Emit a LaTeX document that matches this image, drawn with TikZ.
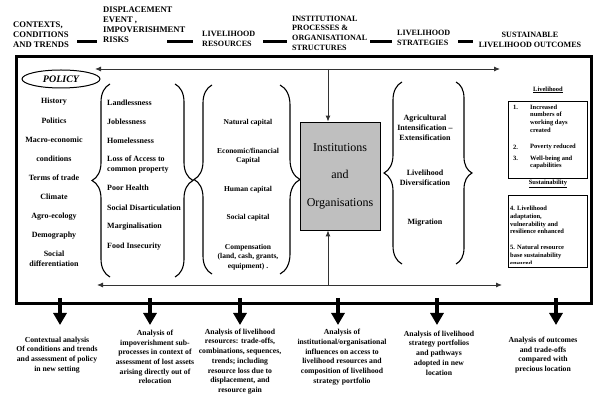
\documentclass[tikz,border=0pt]{standalone}
\usepackage{fontspec}
\setmainfont{Liberation Serif}
\usetikzlibrary{arrows.meta,decorations.pathreplacing,shapes.geometric}
\begin{document}
\begin{tikzpicture}[x=1pt,y=-1pt,
  hdr/.style={font=\bfseries\fontsize{8.1}{9.7}\selectfont, align=left, inner sep=0, anchor=west},
  itm/.style={font=\bfseries\fontsize{8}{10}\selectfont, inner sep=0},
  res/.style={font=\bfseries\fontsize{7.5}{9.5}\selectfont, inner sep=0, align=center},
  sml/.style={font=\bfseries\fontsize{6.5}{7.8}\selectfont, inner sep=0, align=left, anchor=west},
  btm/.style={font=\bfseries\fontsize{7.7}{9.7}\selectfont, inner sep=0, align=center},
  hdash/.style={line width=3pt},
  conn/.style={line width=0.9pt, draw=black!80},
  tip/.style={-{Latex[length=6pt,width=5pt]}},
  brc/.style={decorate, decoration={brace, amplitude=#1}, line width=1.1pt},
  bigarr/.style={line width=4.5pt, -{Triangle[width=13pt,length=12pt]}}
]
\useasboundingbox (0,0) rectangle (600,403);

% header
\node[hdr, font=\bfseries\fontsize{8.6}{10}\selectfont] (h1) at (13,35) {CONTEXTS,\\CONDITIONS\\AND TRENDS};
\node[hdr, font=\bfseries\fontsize{8.6}{10}\selectfont] (h2) at (103,25) {DISPLACEMENT\\EVENT ,\\IMPOVERISHMENT\\RISKS};
\node[hdr] (h3) at (202,39) {LIVELIHOOD\\RESOURCES};
\node[hdr] (h4) at (292,33) {INSTITUTIONAL\\PROCESSES \&\\ORGANISATIONAL\\STRUCTURES};
\node[hdr] (h5) at (397,38) {LIVELIHOOD\\STRATEGIES};
\node[hdr, anchor=center, align=center] (h6) at (530,40) {SUSTAINABLE\\LIVELIHOOD OUTCOMES};
\draw[hdash] (77,42) -- (97,42);
\draw[hdash] (167,42) -- (193,42);
\draw[hdash] (263,42) -- (287,42);
\draw[hdash] (370,42) -- (392,42);
\draw[hdash] (458,42) -- (473,42);

% frame
\node[draw, line width=3pt, minimum width=575, minimum height=247, inner sep=0, anchor=north west] (frame) at (15,55) {};

% policy and left column
\node[draw, ellipse, line width=1pt, minimum width=78, minimum height=18, inner sep=0,
      font=\bfseries\itshape\fontsize{10}{11}\selectfont] (policy) at (61,79) {POLICY};
\node[itm] (l1) at (54,102) {History};
\node[itm] (l2) at (54,121) {Politics};
\node[itm] (l3) at (54,140) {Macro-economic};
\node[itm] (l4) at (54,159) {conditions};
\node[itm] (l5) at (54,178) {Terms of trade};
\node[itm] (l6) at (54,197) {Climate};
\node[itm] (l7) at (54,217) {Agro-ecology};
\node[itm] (l8) at (54,236) {Demography};
\node[itm, align=center] (l9) at (54,259) {Social\\differentiation};

% impoverishment risks
\node[itm, anchor=west] (r1) at (107,103) {Landlessness};
\node[itm, anchor=west] (r2) at (107,122) {Joblessness};
\node[itm, anchor=west] (r3) at (107,141) {Homelessness};
\node[itm, anchor=west, align=left] (r4) at (107,165) {Loss of Access to\\common property};
\node[itm, anchor=west] (r5) at (107,188) {Poor Health};
\node[itm, anchor=west] (r6) at (107,208) {Social Disarticulation};
\node[itm, anchor=west] (r7) at (107,227) {Marginalisation};
\node[itm, anchor=west] (r8) at (107,247) {Food Insecurity};

% resources
\node[res] (s1) at (248,123) {Natural capital};
\node[res] (s2) at (248,156) {Economic/financial\\Capital};
\node[res] (s3) at (248,190) {Human capital};
\node[res] (s4) at (248,218) {Social capital};
\node[res] (s5) at (248,257) {Compensation\\(land, cash, grants,\\equipment) .};

% institutions
\node[draw, fill=black!25, line width=0.8pt, minimum width=80, minimum height=108, inner sep=0,
      align=center, font=\fontsize{12}{27.5}\selectfont] (inst) at (340,176) {Institutions\\and\\Organisations};

% strategies
\node[itm, align=center] (g1) at (425,128) {Agricultural\\Intensification --\\Extensification};
\node[itm, align=center] (g2) at (425,178) {Livelihood\\Diversification};
\node[itm] (g3) at (425,223) {Migration};

% braces
\draw[brc=18pt] (110,277) -- (110,84);
\draw[brc=18pt] (175,84) -- (175,277);
\draw[brc=18pt] (212,274) -- (212,85);
\draw[brc=20pt] (280,85) -- (280,274);
\draw[brc=18pt] (402,264) -- (402,82);
\draw[brc=16pt] (456,82) -- (456,264);

% outcomes
\node[sml, anchor=center] (o1) at (548,90) {\underline{Livelihood}};
\node[draw, line width=0.7pt, minimum width=79, minimum height=77, inner sep=0, anchor=north west] (box1) at (508,101) {};
\node[sml] (n1) at (513,107) {1.};
\node[sml] (t1) at (530,118.5) {Increased\\numbers of\\working days\\created};
\node[sml] (n2) at (513,147) {2.};
\node[sml] (t2) at (530,147) {Poverty reduced};
\node[sml] (n3) at (513,158) {3.};
\node[sml] (t3) at (530,162.5) {Well-being and\\capabilities};
\node[sml, anchor=center] (o2) at (548,184) {\underline{Sustainability}};
\node[draw, line width=0.7pt, minimum width=79, minimum height=72, inner sep=0, anchor=north west] (box2) at (508,195) {};
\node[sml] (t4) at (510,220) {4. Livelihood\\adaptation,\\vulnerability and\\resilience enhanced};
\begin{scope}
\clip (509,240) rectangle (586,264);
\node[sml] (t5) at (510,255) {5. Natural resource\\base sustainability\\ensured};
\end{scope}

% connectors
\coordinate (tl) at (95,69);
\coordinate (tr) at (500,69);
\coordinate (tj) at (328,69);
\coordinate (bl) at (97,285);
\coordinate (br) at (502,285);
\coordinate (bj) at (328,285);
\draw[conn, {Latex[length=6pt,width=5pt]}-{Latex[length=6pt,width=5pt]}] (tl) -- (tr);
\draw[conn, {Latex[length=6pt,width=5pt]}-{Latex[length=6pt,width=5pt]}] (bl) -- (br);
\draw[conn, tip] (tj) -- (tj |- inst.north);
\draw[conn, tip] (bj) -- (bj |- inst.south);

% bottom analyses
\node[btm] (c1) at (57,355) {Contextual analysis\\Of conditions and trends\\and assessment of policy\\in new setting};
\node[btm] (c2) at (155,357) {Analysis of\\impoverishment sub-\\processes in context of\\assessment of lost assets\\arising directly out of\\relocation};
\node[btm] (c3) at (240,361.5) {Analysis of livelihood\\resources: trade-offs,\\combinations, sequences,\\trends; including\\resource loss due to\\displacement, and\\resource gain};
\node[btm] (c4) at (342,357) {Analysis of\\institutional/organisational\\influences on access to\\livelihood resources and\\composition of livelihood\\strategy portfolio};
\node[btm] (c5) at (439,353) {Analysis of livelihood\\strategy portfolios\\and pathways\\adopted in new\\location};
\node[btm] (c6) at (543,355) {Analysis of outcomes\\and trade-offs\\compared with\\precious location};

\foreach \i/\x in {1/60,2/150,3/240,4/338,5/437,6/556}{
  \coordinate (a\i) at (\x,298);
  \coordinate (e\i) at (\x,325);
  \draw[bigarr] (a\i) -- (e\i);
}
\end{tikzpicture}
\end{document}
